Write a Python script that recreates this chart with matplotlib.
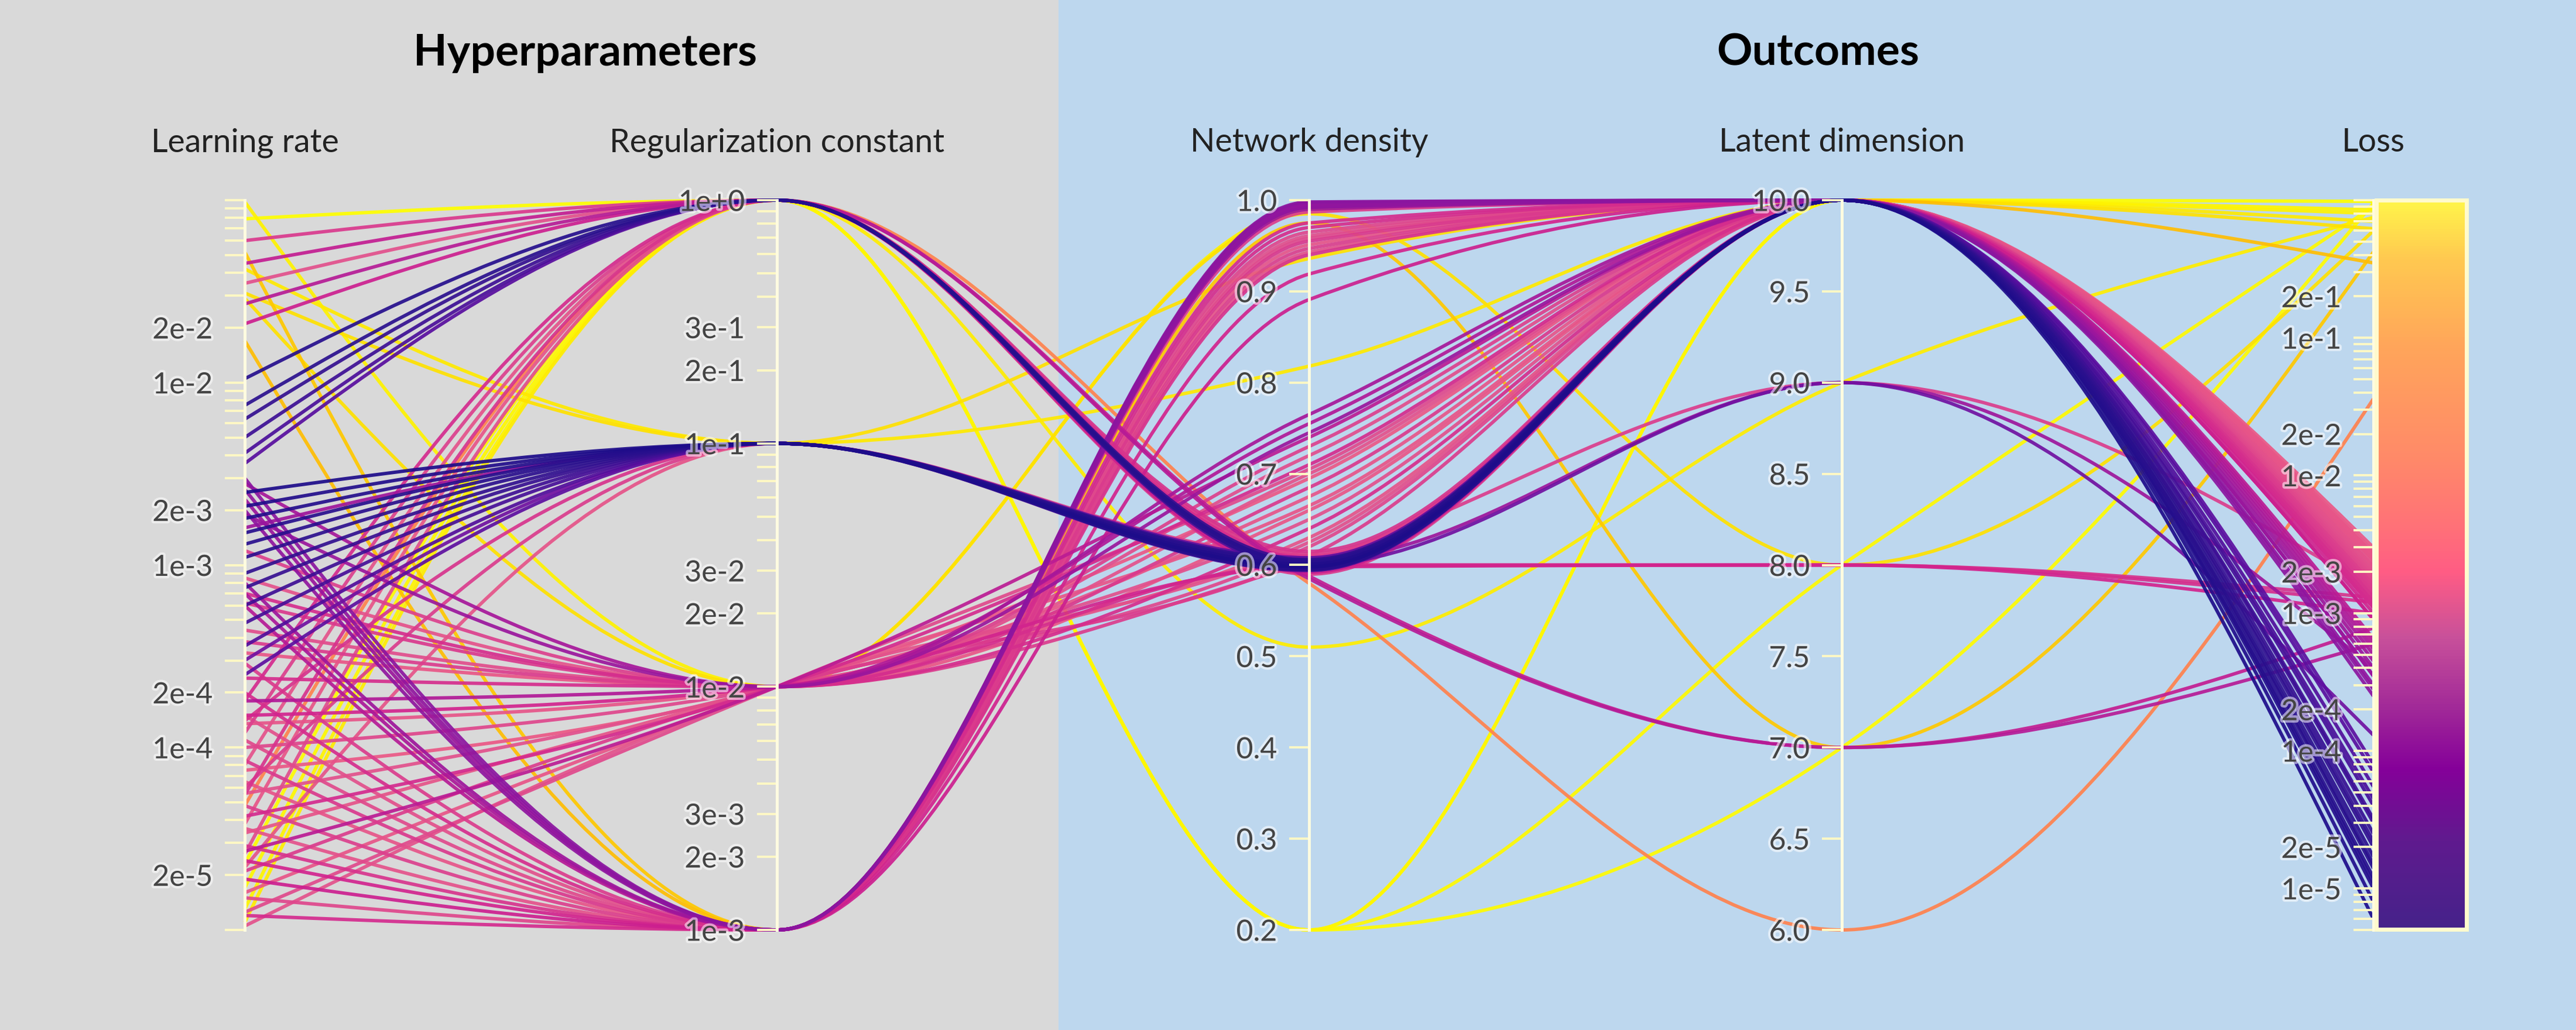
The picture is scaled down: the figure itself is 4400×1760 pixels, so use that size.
import numpy as np
import matplotlib
matplotlib.use('Agg')
import matplotlib.pyplot as plt
from matplotlib.path import Path
from matplotlib.patches import PathPatch, Rectangle
from matplotlib.colors import LinearSegmentedColormap, LogNorm
from matplotlib.cm import ScalarMappable
from matplotlib.ticker import FixedLocator, FuncFormatter, NullLocator
import matplotlib.patheffects as pe

plt.rcParams['font.family'] = ['Lato', 'DejaVu Sans']

# ---- data (one entry per run) ----
learning_rate = [
    1.05e-2, 7.5e-3, 6.3e-3, 5.0e-3, 4.1e-3, 3.6e-3,
    1.8e-4, 1.2e-4, 8.0e-5, 5.5e-5, 3.8e-5, 2.6e-5,
    6.0e-2, 4.5e-2, 3.5e-2, 2.7e-2, 2.1e-2,
    4.8e-5,
    1.3e-5, 1.7e-5, 2.3e-5, 1.1e-5, 7.9e-2,
    2.5e-3, 2.1e-3, 1.8e-3, 1.5e-3, 1.3e-3, 1.1e-3, 9.0e-4, 7.5e-4, 6.0e-4, 4.8e-4, 3.6e-4, 2.5e-4,
    3.0e-4, 1.6e-3,
    6.0e-5, 1.4e-4, 2.2e-5,
    4.2e-2, 3.1e-2,
    2.8e-3, 1.9e-3, 1.2e-3, 8.5e-4, 6.2e-4, 4.4e-4, 3.3e-4, 2.4e-4, 1.8e-4, 1.35e-4,
    1.0e-4, 7.5e-5, 5.6e-5, 4.2e-5, 3.4e-5, 2.7e-5, 2.1e-5, 1.6e-5, 1.25e-5, 1.05e-5,
    7.0e-4, 1.5e-4, 3.8e-4,
    9.8e-2, 2.9e-2,
    3.0e-3, 2.6e-3, 2.3e-3, 2.0e-3, 8.0e-4, 7.0e-4, 6.0e-4, 2.9e-4, 2.0e-4, 1.5e-4,
    1.1e-4, 8.5e-5, 6.5e-5, 4.8e-5, 3.6e-5, 2.9e-5, 2.4e-5, 1.9e-5, 1.5e-5, 1.2e-5,
    5.2e-2, 1.7e-2,
]
regularization = [
    1.0, 1.0, 1.0, 1.0, 1.0, 1.0,
    1.0, 1.0, 1.0, 1.0, 1.0, 1.0,
    1.0, 1.0, 1.0, 1.0, 1.0,
    1.0,
    1.0, 1.0, 1.0, 1.0, 1.0,
    0.1, 0.1, 0.1, 0.1, 0.1, 0.1, 0.1, 0.1, 0.1, 0.1, 0.1, 0.1,
    0.1, 0.1,
    0.1, 0.1, 0.1,
    0.1, 0.1,
    0.01, 0.01, 0.01, 0.01, 0.01, 0.01, 0.01, 0.01, 0.01, 0.01,
    0.01, 0.01, 0.01, 0.01, 0.01, 0.01, 0.01, 0.01, 0.01, 0.01,
    0.01, 0.01, 0.01,
    0.01, 0.01,
    0.001, 0.001, 0.001, 0.001, 0.001, 0.001, 0.001, 0.001, 0.001, 0.001,
    0.001, 0.001, 0.001, 0.001, 0.001, 0.001, 0.001, 0.001, 0.001, 0.001,
    0.001, 0.001,
]
network_density = [
    0.602, 0.598, 0.605, 0.600, 0.596, 0.603,
    0.608, 0.612, 0.604, 0.615, 0.610, 0.606,
    0.590, 0.588, 0.595, 0.585, 0.592,
    0.580,
    0.20, 0.20, 0.20, 0.51, 0.20,
    0.598, 0.601, 0.595, 0.604, 0.599, 0.606, 0.597, 0.603, 0.600, 0.594, 0.602, 0.608,
    0.600, 0.605,
    0.610, 0.600, 0.607,
    0.818, 0.936,
    0.765, 0.745, 0.730, 0.700, 0.685, 0.720, 0.660, 0.640, 0.755, 0.675,
    0.620, 0.695, 0.650, 0.710, 0.630, 0.740, 0.610, 0.665, 0.705, 0.625,
    0.600, 0.598, 0.603,
    0.990, 0.985,
    0.998, 0.996, 0.994, 0.992, 0.990, 0.997, 0.993, 0.987, 0.970, 0.961,
    0.958, 0.955, 0.951, 0.947, 0.943, 0.940, 0.919, 0.891, 0.965, 0.975,
    0.975, 0.995,
]
latent_dim = [
    10, 10, 10, 10, 10, 10,
    10, 10, 10, 10, 10, 10,
    10, 7, 10, 7, 10,
    6,
    10, 8, 7, 9, 10,
    10, 10, 10, 10, 10, 10, 10, 10, 10, 10, 10, 10,
    9, 9,
    10, 8, 10,
    10, 10,
    10, 10, 10, 10, 10, 10, 10, 10, 10, 10,
    10, 10, 10, 10, 10, 10, 10, 10, 10, 10,
    8, 8, 9,
    10, 8,
    10, 10, 10, 10, 10, 10, 10, 10, 10, 10,
    10, 10, 10, 10, 10, 10, 10, 10, 10, 10,
    7, 10,
]
loss = [
    1.1e-5, 1.5e-5, 2.2e-5, 3.0e-5, 4.5e-5, 7.0e-5,
    1.1e-3, 1.6e-3, 2.2e-3, 1.3e-3, 2.6e-3, 1.9e-3,
    1.4e-3, 7.8e-4, 2.0e-3, 6.0e-4, 9.0e-4,
    3.6e-2,
    0.85, 0.90, 0.95, 0.75, 0.98,
    6.0e-6, 8.0e-6, 1.0e-5, 1.2e-5, 1.4e-5, 1.7e-5, 2.0e-5, 2.5e-5, 3.2e-5, 4.0e-5, 5.5e-5, 8.0e-5,
    1.3e-4, 4.0e-4,
    1.5e-3, 1.3e-3, 2.4e-3,
    0.70, 0.62,
    4.5e-4, 3.5e-4, 1.6e-3, 2.2e-3, 1.4e-3, 1.9e-3, 2.8e-3, 1.2e-3, 5.5e-4, 2.5e-3,
    1.7e-3, 3.0e-3, 2.0e-3, 1.1e-3, 2.4e-3, 6.5e-4, 1.5e-3, 2.7e-3, 1.8e-3, 2.1e-3,
    1.2e-3, 1.0e-3, 1.5e-3,
    0.80, 0.60,
    2.5e-4, 3.0e-4, 3.5e-4, 2.8e-4, 4.0e-4, 5.0e-4, 6.0e-4, 1.5e-3, 1.2e-3, 2.0e-3,
    1.8e-3, 1.4e-3, 2.5e-3, 1.6e-3, 2.2e-3, 1.3e-3, 1.0e-3, 9.0e-4, 1.7e-3, 1.1e-3,
    0.42, 0.35,
]

axis_titles = ['Learning rate', 'Regularization constant', 'Network density',
               'Latent dimension', 'Loss']
axis_ranges = [(1e-5, 1e-1), (1e-3, 1.0), (0.2, 1.0), (6.0, 10.0), (5e-6, 1.0)]
axis_log = [True, True, False, False, True]
lr_labels = [2e-2, 1e-2, 2e-3, 1e-3, 2e-4, 1e-4, 2e-5]
reg_labels = [1.0, 3e-1, 2e-1, 1e-1, 3e-2, 2e-2, 1e-2, 3e-3, 2e-3, 1e-3]
density_ticks = [0.2, 0.3, 0.4, 0.5, 0.6, 0.7, 0.8, 0.9, 1.0]
latent_ticks = [6.0, 6.5, 7.0, 7.5, 8.0, 8.5, 9.0, 9.5, 10.0]
loss_labels = [2e-1, 1e-1, 2e-2, 1e-2, 2e-3, 1e-3, 2e-4, 1e-4, 2e-5, 1e-5]

columns = [learning_rate, regularization, network_density, latent_dim, loss]
n = len(loss)
assert all(len(c) == n for c in columns)

# ---- layout (pixels) ----
W, H = 4400, 1760
DPI = 200
axis_x = [418, 1327, 2236, 3146, 4054]
top_px, bot_px = 342, 1589
split_px = 1808

GREY = '#d9d9d9'
BLUE = '#bdd7ee'
AXCOL = '#fffbe0'
TICKCOL = '#fff8c4'
LABCOL = '#444444'

line_cmap = LinearSegmentedColormap.from_list('lines', [
    (0.00, '#1b0c8a'), (0.10, '#2c108e'), (0.22, '#5a0ea0'), (0.30, '#7f14a2'),
    (0.36, '#a0169c'), (0.43, '#d0208e'), (0.49, '#e2508c'), (0.56, '#f46080'),
    (0.72, '#ff8050'), (0.86, '#ffa020'), (0.92, '#ffc000'), (0.96, '#ffe000'),
    (1.00, '#ffff00')])
bar_cmap = LinearSegmentedColormap.from_list('bar', [
    (0.00, '#45228a'), (0.12, '#5f1a8e'), (0.22, '#850099'), (0.30, '#a02898'),
    (0.40, '#c8509a'), (0.49, '#ff5c84'), (0.55, '#ff7078'), (0.65, '#ff8a68'),
    (0.80, '#ffa55a'), (0.92, '#ffc850'), (1.00, '#fff44a')])
loss_norm = LogNorm(vmin=axis_ranges[4][0], vmax=axis_ranges[4][1])

fig = plt.figure(figsize=(W / DPI, H / DPI), dpi=DPI)

# background panels + canvas for the lines (data coords == pixels)
canvas = fig.add_axes([0, 0, 1, 1], zorder=0)
canvas.set_xlim(0, W)
canvas.set_ylim(0, H)
canvas.axis('off')
canvas.add_patch(Rectangle((0, 0), split_px, H, color=GREY, lw=0))
canvas.add_patch(Rectangle((split_px, 0), W - split_px, H, color=BLUE, lw=0))


def log_ticks(lo, hi):
    ticks = []
    for e in range(int(np.floor(np.log10(lo))), int(np.ceil(np.log10(hi))) + 1):
        for m in range(1, 10):
            v = m * 10.0 ** e
            if lo * 0.999 <= v <= hi * 1.001:
                ticks.append(v)
    return ticks


def log_fmt(labels):
    def f(v, pos):
        for lab in labels:
            if abs(v - lab) <= 1e-6 * lab:
                e = int(np.floor(np.log10(v) + 1e-9))
                m = int(round(v / 10.0 ** e))
                return f"{m}e{e:+d}"
        return ''
    return f


label_sets = [lr_labels, reg_labels, None, None, loss_labels]
vaxes = []
for i in range(5):
    vax = fig.add_axes([axis_x[i] / W, (H - bot_px) / H, 0.0001, (bot_px - top_px) / H],
                       zorder=2)
    vax.patch.set_alpha(0)
    for s in ['top', 'right', 'bottom']:
        vax.spines[s].set_visible(False)
    vax.spines['left'].set_color(AXCOL)
    vax.spines['left'].set_linewidth(1.8)
    vax.set_xticks([])
    if axis_log[i]:
        vax.set_yscale('log')
        vax.yaxis.set_major_locator(FixedLocator(log_ticks(*axis_ranges[i])))
        vax.yaxis.set_major_formatter(FuncFormatter(log_fmt(label_sets[i])))
    else:
        tk = density_ticks if i == 2 else latent_ticks
        vax.yaxis.set_major_locator(FixedLocator(tk))
        vax.yaxis.set_major_formatter(FuncFormatter(lambda v, p: f"{v:.1f}"))
    vax.yaxis.set_minor_locator(NullLocator())
    vax.set_ylim(*axis_ranges[i])
    vax.tick_params(axis='y', direction='out', length=12.2, width=1.4, color=TICKCOL,
                    pad=7.5, labelsize=18, labelcolor=LABCOL)
    vaxes.append(vax)
    fig.text(axis_x[i] / W, 1 - 259 / H, axis_titles[i], ha='center', va='baseline',
             fontsize=20, color='#222222')

fig.text(999 / W, 1 - 112 / H, 'Hyperparameters', ha='center', va='baseline',
         fontsize=27, fontweight='bold', color='black')
fig.text(3105 / W, 1 - 112 / H, 'Outcomes', ha='center', va='baseline',
         fontsize=27, fontweight='bold', color='black')

# colour bar next to the loss axis
cax = fig.add_axes([4059 / W, (H - 1588) / H, (4213 - 4059) / W, (1588 - top_px) / H],
                   zorder=2)
cb = fig.colorbar(ScalarMappable(norm=loss_norm, cmap=bar_cmap), cax=cax)
cax.yaxis.set_major_locator(NullLocator())
cax.yaxis.set_minor_locator(NullLocator())
cb.outline.set_edgecolor('#fffacd')
cb.outline.set_linewidth(2.5)


def monotone_path(xs, ys):
    # d3 curveMonotoneX
    xs = np.asarray(xs, float)
    ys = np.asarray(ys, float)
    h = np.diff(xs)
    s = np.diff(ys) / h
    sg = lambda v: -1.0 if v < 0 else 1.0
    t = np.zeros(len(xs))
    for k in range(1, len(xs) - 1):
        s0, s1 = s[k - 1], s[k]
        p = (s0 * h[k] + s1 * h[k - 1]) / (h[k - 1] + h[k])
        t[k] = (sg(s0) + sg(s1)) * min(abs(s0), abs(s1), 0.5 * abs(p))
    t[0] = (3 * s[0] - t[1]) / 2
    t[-1] = (3 * s[-1] - t[-2]) / 2
    verts = [(xs[0], ys[0])]
    codes = [Path.MOVETO]
    for k in range(len(xs) - 1):
        dx = h[k] / 3
        verts += [(xs[k] + dx, ys[k] + dx * t[k]),
                  (xs[k + 1] - dx, ys[k + 1] - dx * t[k + 1]),
                  (xs[k + 1], ys[k + 1])]
        codes += [Path.CURVE4] * 3
    return Path(verts, codes)


order = sorted(range(n), key=lambda r: -loss[r])
for r in order:
    pts = [vaxes[i].transData.transform((0, columns[i][r])) for i in range(5)]
    px = [p[0] for p in pts]
    py = [p[1] for p in pts]
    col = line_cmap(loss_norm(loss[r]))
    canvas.add_patch(PathPatch(monotone_path(px, py), facecolor='none', edgecolor=col,
                               lw=2.1, alpha=0.92, capstyle='butt', joinstyle='round'))

fig.canvas.draw()
halo = [pe.withStroke(linewidth=3, foreground='white', alpha=0.55)]
for vax in vaxes:
    for t in vax.get_yticklabels():
        t.set_path_effects(halo)

fig.savefig('out.png', dpi=DPI)
